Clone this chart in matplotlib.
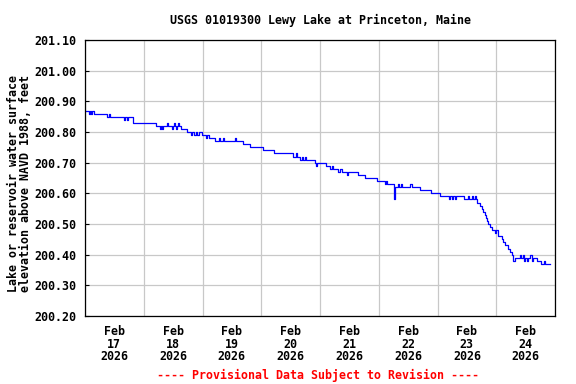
import matplotlib
matplotlib.use("Agg")
import matplotlib.pyplot as plt
import matplotlib.dates as mdates
import pandas as pd

# Lake elevation readings (hours after 2026-02-17 00:00, elevation ft), by day
feb17 = [(0.0, 200.87), (1.5, 200.86), (2.0, 200.87), (2.5, 200.86), (3.0, 200.87),
         (3.5, 200.86), (9.0, 200.85), (9.6, 200.86), (10.2, 200.85), (15.9, 200.84),
         (16.5, 200.85), (17.2, 200.84), (17.6, 200.85), (19.6, 200.83)]
feb18 = [(29.0, 200.82), (30.6, 200.81), (31.0, 200.82), (31.5, 200.81), (32.0, 200.82),
         (33.4, 200.83), (33.8, 200.82), (35.5, 200.81), (35.9, 200.82), (36.4, 200.83),
         (36.8, 200.82), (37.2, 200.81), (37.6, 200.82), (38.0, 200.83), (38.4, 200.82),
         (39.2, 200.81), (41.7, 200.80), (43.3, 200.79), (43.7, 200.80), (44.5, 200.79),
         (45.3, 200.80), (45.7, 200.79), (46.6, 200.80), (47.8, 200.79)]
feb19 = [(49.4, 200.78), (49.8, 200.79), (50.7, 200.78), (53.1, 200.77), (54.7, 200.78),
         (55.1, 200.77), (56.4, 200.78), (56.8, 200.77), (61.3, 200.78), (61.6, 200.77),
         (64.5, 200.76), (67.4, 200.75)]
feb20 = [(72.7, 200.74), (77.2, 200.73), (85.0, 200.72), (86.2, 200.73), (86.7, 200.72),
         (87.8, 200.71), (88.6, 200.72), (89.0, 200.71), (89.9, 200.72), (90.3, 200.71)]
feb21 = [(94.0, 200.70), (94.4, 200.69), (94.8, 200.70), (98.4, 200.69), (100.1, 200.68),
         (100.9, 200.69), (101.4, 200.68), (103.2, 200.67), (104.2, 200.68), (105.1, 200.67),
         (106.9, 200.66), (107.6, 200.67), (111.6, 200.66), (114.4, 200.65)]
feb22 = [(119.2, 200.64), (122.6, 200.63), (123.0, 200.64), (123.5, 200.63), (126.2, 200.58),
         (126.6, 200.62), (128.0, 200.63), (128.4, 200.62), (129.1, 200.63), (129.5, 200.62),
         (132.9, 200.63), (133.5, 200.62), (136.9, 200.61), (141.3, 200.60)]
feb23 = [(145.0, 200.59), (148.7, 200.58), (149.2, 200.59), (150.0, 200.58), (150.5, 200.59),
         (151.2, 200.58), (151.7, 200.59), (154.8, 200.58), (156.5, 200.59), (157.0, 200.58),
         (158.0, 200.59), (158.4, 200.58), (159.3, 200.59), (159.7, 200.58), (160.1, 200.57),
         (161.5, 200.56), (162.2, 200.55), (162.7, 200.54), (163.4, 200.53), (163.8, 200.52),
         (164.1, 200.51), (164.8, 200.50), (165.4, 200.49), (166.3, 200.48), (167.5, 200.47),
         (168.1, 200.48), (168.8, 200.46)]
feb24 = [(170.2, 200.45), (170.8, 200.44), (171.6, 200.43), (172.9, 200.42), (173.5, 200.41),
         (174.3, 200.40), (174.7, 200.38), (175.6, 200.39), (177.7, 200.40), (178.0, 200.39),
         (178.8, 200.40), (179.2, 200.38), (179.7, 200.39), (180.4, 200.38), (181.1, 200.39),
         (181.8, 200.40), (182.5, 200.38), (183.1, 200.39), (184.5, 200.38), (186.3, 200.37),
         (187.5, 200.38), (187.9, 200.37), (190.0, 200.37)]

title = "USGS 01019300 Lewy Lake at Princeton, Maine"
ylabel = "Lake or reservoir water surface\nelevation above NAVD 1988, feet"
footer = "---- Provisional Data Subject to Revision ----"
yticks = [200.20, 200.30, 200.40, 200.50, 200.60, 200.70, 200.80, 200.90, 201.00, 201.10]
start = pd.Timestamp("2026-02-17 00:00")
end = pd.Timestamp("2026-02-25 00:00")

FONT = "DejaVu Sans Mono"
FS = 8.4

readings = feb17 + feb18 + feb19 + feb20 + feb21 + feb22 + feb23 + feb24
hours = [h for h, _ in readings]
elevation = [v for _, v in readings]
times = start + pd.to_timedelta(hours, unit="h")

fig = plt.figure(figsize=(5.76, 3.84), dpi=100)
ax = fig.add_axes([85 / 576, 1 - 316 / 384, 470 / 576, 276 / 384])

ax.plot(times, elevation, drawstyle="steps-post", color="#0000FF", lw=0.9)

ax.set_xlim(start, end)
ax.set_ylim(200.20, 201.10)
ax.set_yticks(yticks)
ax.set_yticklabels([f"{v:.2f}" for v in yticks], fontfamily=FONT,
                   fontweight="bold", fontsize=FS)

ax.xaxis.set_major_locator(mdates.DayLocator())
ax.xaxis.set_major_formatter(plt.NullFormatter())
ax.xaxis.set_minor_locator(mdates.HourLocator(byhour=[12]))
ax.xaxis.set_minor_formatter(mdates.DateFormatter("%b\n%d\n%Y"))
for lab in ax.xaxis.get_minorticklabels():
    lab.set_fontfamily(FONT)
    lab.set_fontweight("bold")
    lab.set_fontsize(FS)
    lab.set_linespacing(0.95)

ax.grid(True, which="major", color="#C8C8C8", lw=0.9)
ax.set_axisbelow(True)
ax.tick_params(axis="x", which="both", length=0, pad=6.8)
ax.tick_params(axis="y", which="major", direction="in", length=3, pad=6)
for s in ax.spines.values():
    s.set_linewidth(0.9)
    s.set_color("black")

fig.text(320 / 576, 1 - 20 / 384, title, ha="center", va="center",
         fontfamily=FONT, fontweight="bold", fontsize=FS)
fig.text(19.5 / 576, 1 - 183 / 384, ylabel, ha="center", va="center", rotation=90,
         fontfamily=FONT, fontweight="bold", fontsize=FS, linespacing=0.82)
fig.text(318 / 576, 1 - 375 / 384, footer, ha="center", va="center",
         fontfamily=FONT, fontweight="bold", fontsize=FS, color="#FF0000")

fig.savefig("out.png", dpi=100, facecolor="white")
